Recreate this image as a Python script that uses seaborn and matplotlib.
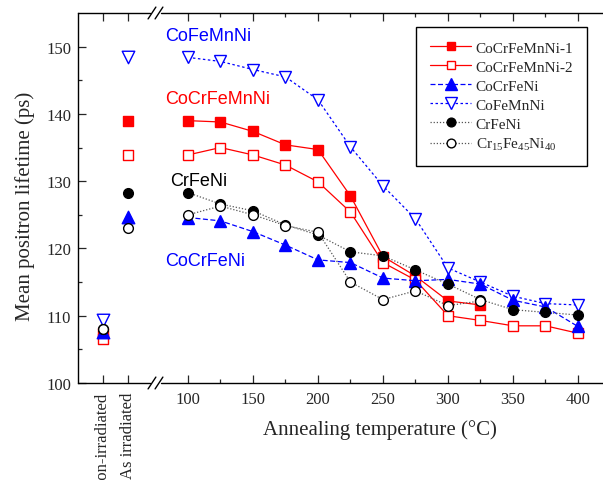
import matplotlib
matplotlib.use('Agg')
import matplotlib.pyplot as plt
import seaborn as sns
from matplotlib.lines import Line2D

# ---------------- data ----------------
temps = [100, 125, 150, 175, 200, 225, 250, 275, 300, 325, 350, 375, 400]
cat_labels = ['non-irradiated', 'As irradiated']
temp_ticks = [100, 150, 200, 250, 300, 350, 400]
minor_temp_ticks = [125, 175, 225, 275, 325, 375]
y_ticks = [100, 110, 120, 130, 140, 150]

names = ['CoCrFeMnNi-1', 'CoCrFeMnNi-2', 'CoCrFeNi', 'CoFeMnNi', 'CrFeNi',
         r'Cr$_{15}$Fe$_{45}$Ni$_{40}$']

cocrfemnni_1 = [139.0, 138.8, 137.4, 135.4, 134.7, 127.8, 118.8, 115.9, 112.2, 111.6]
cocrfemnni_2 = [133.9, 135.0, 133.9, 132.4, 129.9, 125.4, 117.9, 115.3, 110.0, 109.3, 108.5, 108.5, 107.4]
cocrfeni = [124.6, 124.1, 122.5, 120.5, 118.3, 117.9, 115.6, 115.2, 115.4, 114.7, 112.3, 111.3, 108.4]
cofemnni = [148.4, 147.8, 146.6, 145.5, 142.1, 135.1, 129.3, 124.4, 117.1, 115.0, 112.9, 111.8, 111.6]
crfeni = [128.3, 126.6, 125.6, 123.5, 122.0, 119.5, 118.9, 116.8, 114.7, 112.4, 110.9, 110.5, 110.1]
cr15fe45ni40 = [125.0, 126.3, 125.0, 123.4, 122.4, 115.0, 112.4, 113.7, 111.5, 112.2]

# values at [non-irradiated, as irradiated]
cat_cocrfemnni_1 = [107.5, 139.0]
cat_cocrfemnni_2 = [106.6, 133.9]
cat_cocrfeni = [107.6, 124.7]
cat_cofemnni = [109.4, 148.4]
cat_crfeni = [108.0, 128.3]
cat_cr15fe45ni40 = [108.1, 123.1]

# ---------------- layout constants ----------------
cat_pos = [34.6, 53.8]
x_lo, x_hi = 15.4, 420
RED, BLUE = '#FF0000', '#0000FF'

sns.set_style('ticks')
plt.rcParams['font.family'] = ['Liberation Serif', 'DejaVu Serif']
plt.rcParams['mathtext.fontset'] = 'custom'
plt.rcParams['mathtext.rm'] = 'Liberation Serif'
plt.rcParams['mathtext.it'] = 'Liberation Serif:italic'
plt.rcParams['mathtext.default'] = 'regular'

fig = plt.figure(figsize=(6.03, 4.81), dpi=100)
ax = fig.add_axes([78 / 603, 97 / 481, (x_hi - x_lo) * 1.3 / 603, 370 / 481])

series = [
    dict(vals=cocrfemnni_1, cat=cat_cocrfemnni_1, color=RED, lcolor=RED, marker='s', mfc=RED, ms=7, ls='-'),
    dict(vals=cocrfemnni_2, cat=cat_cocrfemnni_2, color=RED, lcolor=RED, marker='s', mfc='white', ms=7, ls='-'),
    dict(vals=cofemnni, cat=cat_cofemnni, color=BLUE, lcolor=BLUE, marker='v', mfc='white', ms=9, ls=(0, (2, 2))),
    dict(vals=cocrfeni, cat=cat_cocrfeni, color=BLUE, lcolor=BLUE, marker='^', mfc=BLUE, ms=9, ls=(0, (4, 2))),
    dict(vals=crfeni, cat=cat_crfeni, color='black', lcolor='#555555', marker='o', mfc='black', ms=7, ls=(0, (1, 1.5))),
    dict(vals=cr15fe45ni40, cat=cat_cr15fe45ni40, color='black', lcolor='#555555', marker='o', mfc='white', ms=7, ls=(0, (1, 1.5))),
]
order_names = [names[0], names[1], names[3], names[2], names[4], names[5]]

handles = {}
for z, (s, nm) in enumerate(zip(series, order_names)):
    n = len(s['vals'])
    sns.lineplot(x=temps[:n], y=s['vals'], ax=ax, color=s['lcolor'], linewidth=0.9,
                 linestyle=s['ls'], marker=s['marker'], markersize=s['ms'],
                 markerfacecolor=s['mfc'], markeredgecolor=s['color'],
                 markeredgewidth=1.0, zorder=3 + z, legend=False)
    sns.scatterplot(x=cat_pos, y=s['cat'], ax=ax, marker=s['marker'], s=s['ms'] ** 2,
                    color=s['mfc'], edgecolor=s['color'], linewidth=1.0,
                    zorder=3 + z, legend=False)
    handles[nm] = Line2D([], [], color=s['lcolor'], linewidth=0.9, linestyle=s['ls'],
                         marker=s['marker'], markersize=s['ms'] * 0.9,
                         markerfacecolor=s['mfc'], markeredgecolor=s['color'],
                         markeredgewidth=1.0)

leg = ax.legend([handles[n] for n in names], names, loc='upper right',
                bbox_to_anchor=(0.968, 0.962), borderaxespad=0,
                prop={'family': 'Liberation Serif', 'size': 11},
                frameon=True, fancybox=False, framealpha=1, edgecolor='black',
                handlelength=2.7, handletextpad=0.3, labelspacing=0.35,
                borderpad=0.9)
leg.get_frame().set_linewidth(1.0)

# annotations
ann_font = dict(family='Liberation Sans', size=13, ha='left', va='center')
ax.text(82.3, 151.6, 'CoFeMnNi', color=BLUE, **ann_font)
ax.text(82.3, 142.3, 'CoCrFeMnNi', color=RED, **ann_font)
ax.text(86.2, 130.1, 'CrFeNi', color='black', **ann_font)
ax.text(82.3, 118.2, 'CoCrFeNi', color=BLUE, **ann_font)

# axes
ax.set_xlim(x_lo, x_hi)
ax.set_ylim(100, 155)
ax.set_xticks(cat_pos + temp_ticks)
ax.set_xticklabels(cat_labels + [str(t) for t in temp_ticks])
for lab in ax.get_xticklabels()[:2]:
    lab.set_rotation(90)
    lab.set_verticalalignment('top')
ax.set_xticks(minor_temp_ticks, minor=True)
ax.set_yticks(y_ticks)
ax.set_yticks([105, 115, 125, 135, 145], minor=True)
ax.tick_params(axis='both', which='major', direction='in', length=6, width=0.9,
               labelsize=12, top=True, right=False, pad=6)
ax.tick_params(axis='both', which='minor', direction='in', length=3, width=0.9,
               top=True, right=False)
ax.tick_params(axis='y', which='major', pad=5)

ax.set_xlabel('Annealing temperature (°C)', fontsize=15)
ax.set_ylabel('Mean positron lifetime (ps)', fontsize=15)
ax.xaxis.set_label_coords(0.574, -0.124)
ax.xaxis.label.set_verticalalignment('center')
ax.yaxis.set_label_coords(-0.101, 0.481)
ax.yaxis.label.set_verticalalignment('center')

for sp in ['top', 'bottom', 'right']:
    ax.spines[sp].set_visible(False)
ax.spines['left'].set_linewidth(1.0)
ax.spines['left'].set_color('black')

# broken x axis (top and bottom)
xt = ax.get_xaxis_transform()
for yy in (0, 1):
    ax.plot([x_lo, 70.8], [yy, yy], transform=xt, color='black', lw=1.0, clip_on=False, zorder=10)
    ax.plot([79.2, x_hi], [yy, yy], transform=xt, color='black', lw=1.0, clip_on=False, zorder=10)
    for xc in (72.3, 77.7):
        ax.plot([xc - 3.0, xc + 3.0], [yy - 0.016, yy + 0.016], transform=xt,
                color='black', lw=1.0, clip_on=False, zorder=10)

fig.savefig('out.png', dpi=100)
